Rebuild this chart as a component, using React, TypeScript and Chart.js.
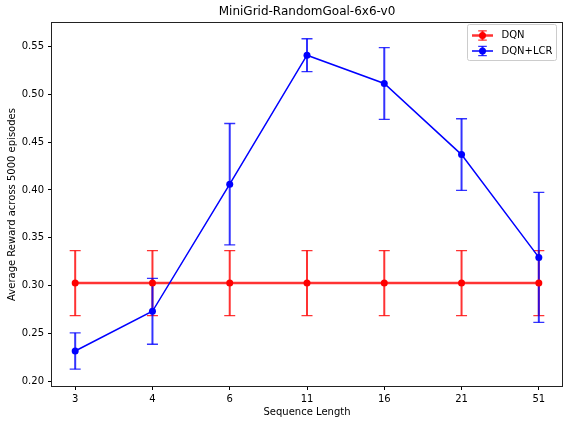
import React, { useEffect, useRef } from "react";
import { Chart, registerables } from "chart.js";

Chart.register(...registerables);

const categories = ["3", "4", "6", "11", "16", "21", "51"];
const dqnMean = [0.3025, 0.3025, 0.3025, 0.3025, 0.3025, 0.3025, 0.3025];
const dqnErr = [0.034, 0.034, 0.034, 0.034, 0.034, 0.034, 0.034];
const lcrMean = [0.2314, 0.273, 0.406, 0.541, 0.5114, 0.437, 0.3294];
const lcrErr = [0.019, 0.0345, 0.0635, 0.0172, 0.0375, 0.0375, 0.068];
const yTicks = [0.2, 0.25, 0.3, 0.35, 0.4, 0.45, 0.5, 0.55];

const FONT = '"DejaVu Sans", sans-serif';
const RED_BAR = "rgba(255,0,0,0.8)";
const BLUE_BAR = "rgba(0,0,255,0.8)";

const series = [
  { label: "DQN", mean: dqnMean, err: dqnErr, line: "rgba(255,0,0,0.8)", bar: RED_BAR, dot: "#ff0000", lw: 2.5 },
  { label: "DQN+LCR", mean: lcrMean, err: lcrErr, line: "#0000ff", bar: BLUE_BAR, dot: "#0000ff", lw: 1.5 },
];

function drawBar(ctx: CanvasRenderingContext2D, px: number, top: number, bot: number, half: number, color: string) {
  ctx.strokeStyle = color;
  ctx.lineWidth = 2;
  ctx.beginPath();
  ctx.moveTo(px, top);
  ctx.lineTo(px, bot);
  ctx.stroke();
  ctx.lineWidth = 1.3;
  ctx.beginPath();
  ctx.moveTo(px - half, top);
  ctx.lineTo(px + half, top);
  ctx.moveTo(px - half, bot);
  ctx.lineTo(px + half, bot);
  ctx.stroke();
}

export default function App() {
  const ref = useRef<HTMLCanvasElement | null>(null);

  useEffect(() => {
    const canvas = ref.current;
    if (!canvas) return;

    const errorPlugin = {
      id: "errorbars",
      beforeDatasetsDraw(chart: any) {
        const { ctx } = chart;
        const xs = chart.scales.x;
        const ys = chart.scales.y;
        ctx.save();
        series.forEach((s) => {
          s.mean.forEach((m, i) => {
            const px = xs.getPixelForValue(i);
            const top = ys.getPixelForValue(m + s.err[i]);
            const bot = ys.getPixelForValue(m - s.err[i]);
            drawBar(ctx, px, top, bot, 5.5, s.bar);
          });
        });
        ctx.restore();
      },
      afterDraw(chart: any) {
        const { ctx, chartArea: a } = chart;
        ctx.save();
        // spines
        ctx.strokeStyle = "#222";
        ctx.lineWidth = 1;
        ctx.strokeRect(Math.round(a.left) - 0.5, Math.round(a.top) - 0.5, Math.round(a.right - a.left) + 1, Math.round(a.bottom - a.top) + 1);
        // title
        const cx = (a.left + a.right) / 2;
        ctx.fillStyle = "#000";
        ctx.textAlign = "center";
        ctx.textBaseline = "middle";
        ctx.font = `12px ${FONT}`;
        ctx.fillText("MiniGrid-RandomGoal-6x6-v0", cx, 12);
        ctx.font = `10px ${FONT}`;
        ctx.fillText("Sequence Length", cx, 412);
        ctx.save();
        ctx.translate(12, (a.top + a.bottom) / 2);
        ctx.rotate(-Math.PI / 2);
        ctx.fillText("Average Reward across 5000 episodes", 0, 0);
        ctx.restore();
        // legend
        const lx = Math.round(a.right) - 94.5;
        const ly = Math.round(a.top) + 1.5;
        const lw = 89;
        const lh = 36;
        ctx.fillStyle = "rgba(255,255,255,0.8)";
        ctx.strokeStyle = "#cccccc";
        ctx.lineWidth = 1;
        ctx.beginPath();
        const r = 2;
        ctx.moveTo(lx + r, ly);
        ctx.lineTo(lx + lw - r, ly);
        ctx.quadraticCurveTo(lx + lw, ly, lx + lw, ly + r);
        ctx.lineTo(lx + lw, ly + lh - r);
        ctx.quadraticCurveTo(lx + lw, ly + lh, lx + lw - r, ly + lh);
        ctx.lineTo(lx + r, ly + lh);
        ctx.quadraticCurveTo(lx, ly + lh, lx, ly + lh - r);
        ctx.lineTo(lx, ly + r);
        ctx.quadraticCurveTo(lx, ly, lx + r, ly);
        ctx.closePath();
        ctx.fill();
        ctx.stroke();
        series.forEach((s, k) => {
          const yy = ly + 11 + k * 15.5;
          const x0 = lx + 4.5;
          const x1 = lx + 25.5;
          const xm = (x0 + x1) / 2;
          drawBar(ctx, xm, yy - 4.7, yy + 4.7, 4.3, s.bar);
          ctx.strokeStyle = s.line;
          ctx.lineWidth = s.lw;
          ctx.beginPath();
          ctx.moveTo(x0, yy);
          ctx.lineTo(x1, yy);
          ctx.stroke();
          ctx.fillStyle = s.dot;
          ctx.beginPath();
          ctx.arc(xm, yy, 3.5, 0, Math.PI * 2);
          ctx.fill();
          ctx.fillStyle = "#000";
          ctx.textAlign = "left";
          ctx.textBaseline = "middle";
          ctx.font = `10px ${FONT}`;
          ctx.fillText(s.label, lx + 34, yy);
        });
        ctx.restore();
      },
    };

    const chart = new Chart(canvas, {
      type: "line",
      data: {
        datasets: series.map((s, k) => ({
          label: s.label,
          data: s.mean.map((m, i) => ({ x: i, y: m })),
          borderColor: s.line,
          borderWidth: s.lw,
          backgroundColor: s.dot,
          pointBackgroundColor: s.dot,
          pointBorderWidth: 0,
          pointRadius: 3.5,
          pointHoverRadius: 3.5,
          tension: 0,
          fill: false,
          order: k === 0 ? 1 : 0,
        })),
      },
      options: {
        responsive: false,
        animation: false,
        layout: { padding: { top: 23, right: 6, left: 0, bottom: 0 } },
        plugins: {
          legend: { display: false },
          title: { display: false },
          tooltip: { enabled: false },
        },
        scales: {
          x: {
            type: "linear",
            min: -0.3,
            max: 6.3,
            afterBuildTicks: (s: any) => {
              s.ticks = categories.map((_, i) => ({ value: i }));
            },
            afterFit: (s: any) => {
              s.height = 38;
            },
            ticks: {
              callback: (v: any) => categories[Math.round(Number(v))] ?? "",
              autoSkip: false,
              maxRotation: 0,
              color: "#000",
              font: { family: FONT, size: 10 },
              padding: 3,
            },
            grid: { drawOnChartArea: false, drawTicks: true, tickLength: 4, color: "#000" },
            border: { display: false },
          },
          y: {
            type: "linear",
            min: 0.1948,
            max: 0.5747,
            afterBuildTicks: (s: any) => {
              s.ticks = yTicks.map((v) => ({ value: v }));
            },
            afterFit: (s: any) => {
              s.width = 52;
            },
            ticks: {
              callback: (v: any) => Number(v).toFixed(2),
              color: "#000",
              font: { family: FONT, size: 10 },
              padding: 4,
            },
            grid: { drawOnChartArea: false, drawTicks: true, tickLength: 4, color: "#000" },
            border: { display: false },
          },
        },
      },
      plugins: [errorPlugin],
    });

    return () => chart.destroy();
  }, []);

  return (
    <div style={{ position: "fixed", left: 0, top: 0, width: 568, height: 424, background: "#fff" }}>
      <canvas ref={ref} width={568} height={424} />
    </div>
  );
}
